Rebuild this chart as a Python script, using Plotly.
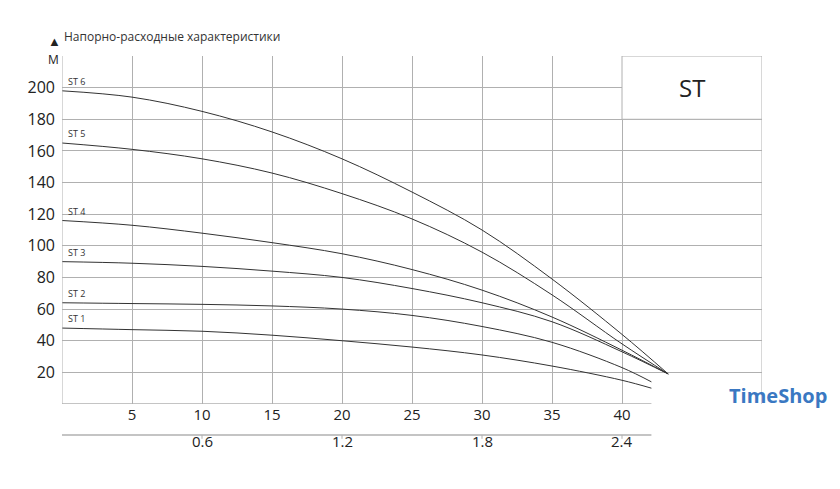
import plotly.graph_objects as go

# расход, м3/ч
q = [0, 5, 10, 15, 20, 25, 30, 35, 40, 43.3]
q_low = [0, 5, 10, 15, 20, 25, 30, 35, 40, 42.1]

st6 = [198, 194, 185, 172, 155, 134, 110, 79, 44, 19]
st5 = [165, 161, 155, 146, 133, 117, 96, 69, 38, 19]
st4 = [116, 113, 108, 102, 95, 85, 72, 55, 34, 19]
st3 = [90, 89, 87, 84, 80, 73, 64, 52, 33, 19]
st2 = [64, 63.5, 63, 62, 60, 56, 49, 39, 23, 14]
st1 = [48, 47, 46, 43.5, 40, 36, 31, 24, 15, 10]

names = ["ST 6", "ST 5", "ST 4", "ST 3", "ST 2", "ST 1"]
series = [st6, st5, st4, st3, st2, st1]

x_ticks = [5, 10, 15, 20, 25, 30, 35, 40]
y_ticks = [20, 40, 60, 80, 100, 120, 140, 160, 180, 200]
x2_ticks = [10, 20, 30, 40]
x2_labels = ["0.6", "1.2", "1.8", "2.4"]

fig = go.Figure()

for name, h in zip(names, series):
    xs = q_low if name in ("ST 1", "ST 2") else q
    fig.add_trace(go.Scatter(x=xs, y=h, mode="lines",
                             line=dict(color="#333", width=1, shape="spline", smoothing=1),
                             showlegend=False, hoverinfo="skip"))
    fig.add_annotation(x=0.3, y=h[0], text=name, showarrow=False, xanchor="left", yanchor="bottom",
                       font=dict(size=9, color="#333"), yshift=1)

grid = "#b0b0b0"
# рамка ST
fig.add_shape(type="rect", x0=40, x1=50, y0=180, y1=220, fillcolor="white",
              line=dict(color=grid, width=1), layer="above")
fig.add_annotation(x=45, y=200, text="ST", showarrow=False, font=dict(size=24, color="#222"))
# правый край
fig.add_shape(type="line", x0=50, x1=50, y0=0, y1=180, line=dict(color=grid, width=1))
fig.add_shape(type="line", x0=0, x1=0, y0=0, y1=220, line=dict(color=grid, width=1))
# оси снизу
fig.add_shape(type="line", x0=0, x1=42.1, y0=0, y1=0, line=dict(color=grid, width=1.5))
fig.add_shape(type="line", xref="x", yref="paper", x0=0, x1=42.1, y0=-0.089, y1=-0.089,
              line=dict(color=grid, width=1.5))
for xv, lab in zip(x2_ticks, x2_labels):
    fig.add_shape(type="line", xref="x", yref="paper", x0=xv, x1=xv, y0=-0.089, y1=-0.1,
                  line=dict(color=grid, width=1))
    fig.add_annotation(x=xv, y=-0.14, xref="x", yref="paper", text=lab, showarrow=False,
                       font=dict(size=15, color="#222"))

fig.add_annotation(x=0, y=1.055, xref="paper", yref="paper", text="Напорно-расходные характеристики",
                   showarrow=False, xanchor="left", yanchor="middle", font=dict(size=12, color="#333"))
fig.add_annotation(x=-0.023, y=1.075, xref="paper", yref="paper", text="▲", showarrow=False,
                   font=dict(size=13, color="#222"))
fig.add_annotation(x=-0.023, y=1.02, xref="paper", yref="paper", text="М", showarrow=False,
                   font=dict(size=12, color="#222"))
fig.add_annotation(x=1.095, y=-0.02, xref="paper", yref="paper", text="<b>TimeShop</b>", showarrow=False,
                   xanchor="right", font=dict(size=20, color="#3a78c2"))

fig.update_xaxes(range=[0, 50], tickvals=x_ticks, showgrid=True, gridcolor=grid, gridwidth=1,
                 zeroline=False, showline=False, tickfont=dict(size=15, color="#222"), ticks="",
                 automargin=False)
fig.update_yaxes(range=[0, 220], tickvals=y_ticks, showgrid=True, gridcolor=grid, gridwidth=1,
                 zeroline=False, showline=False, tickfont=dict(size=16, color="#222"), ticks="",
                 automargin=False, ticklabelstandoff=6)

fig.update_layout(width=840, height=489, margin=dict(l=54, r=86, t=48, b=93),
                  plot_bgcolor="white", paper_bgcolor="white",
                  font=dict(family="Open Sans, sans-serif"))

fig.write_html("out.html")
